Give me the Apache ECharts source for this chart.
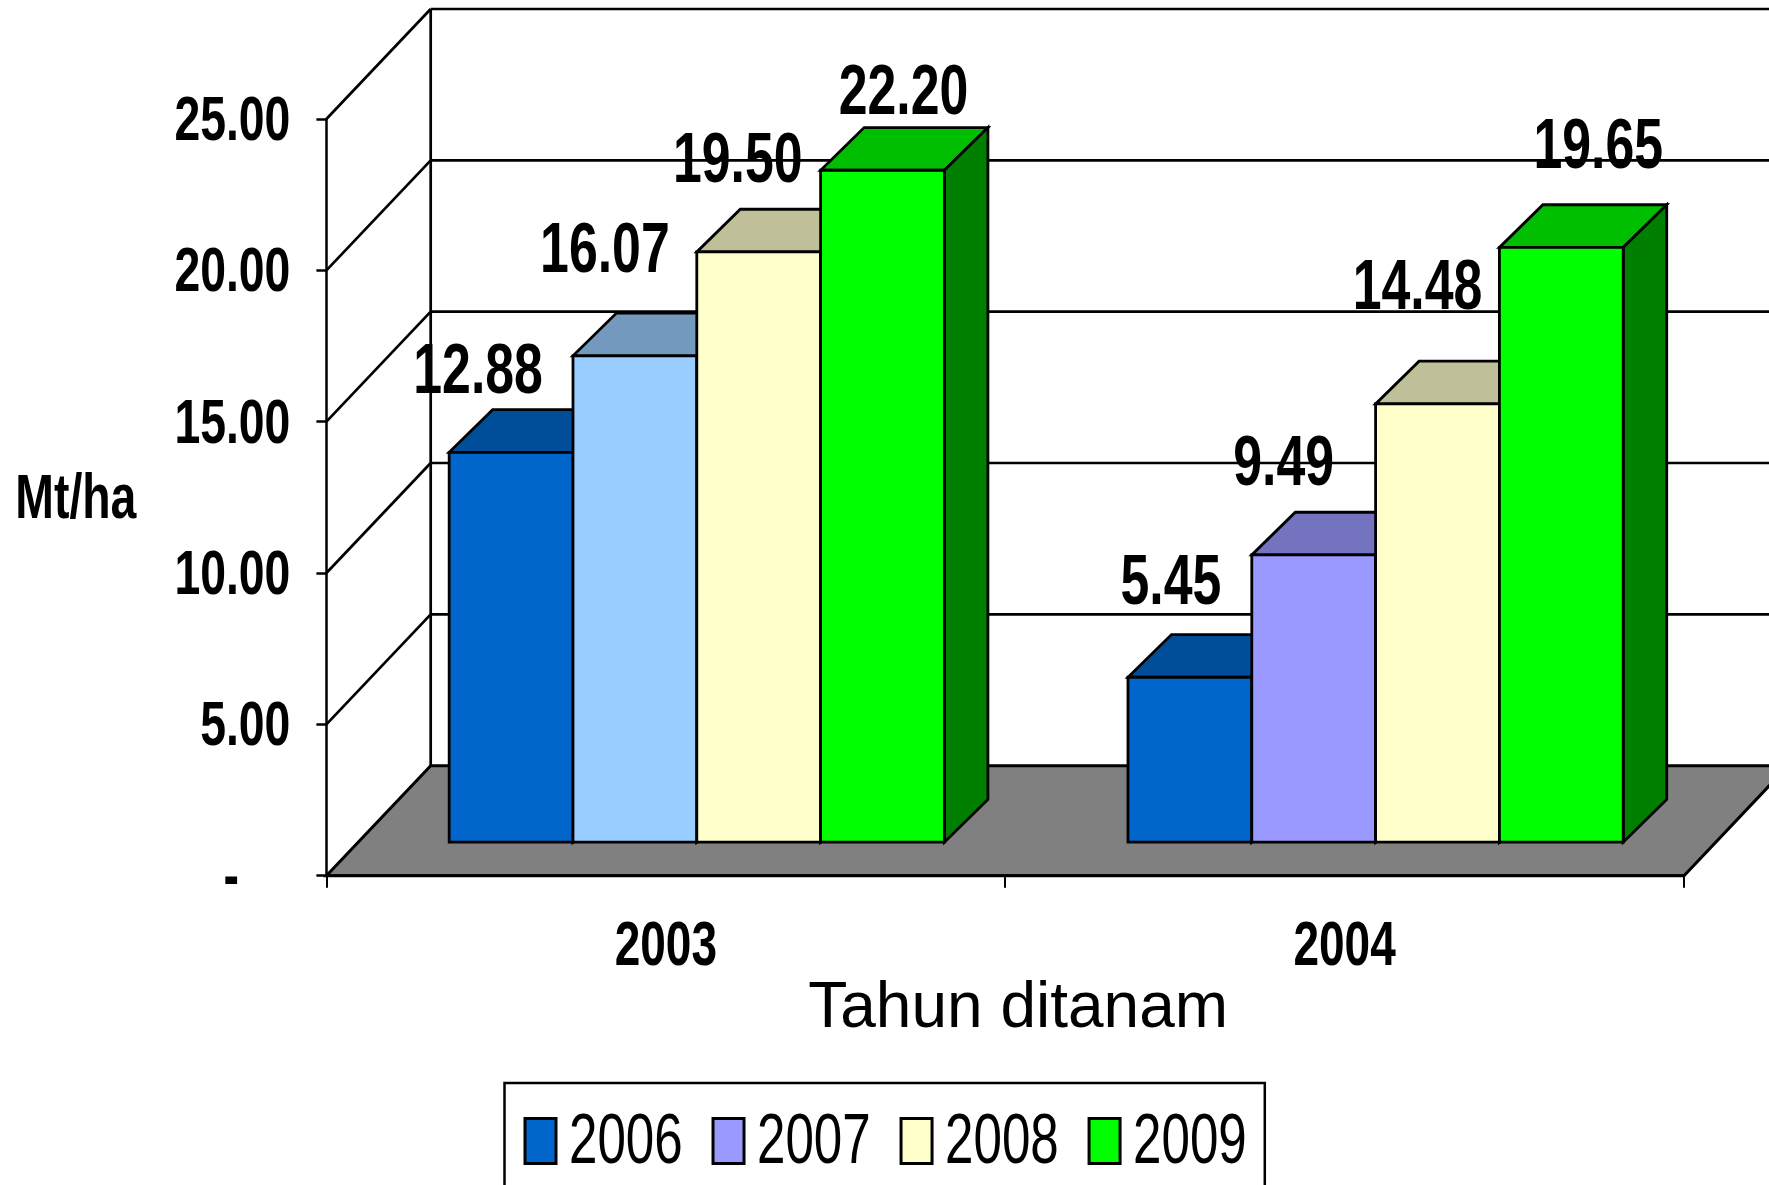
<!DOCTYPE html>
<html>
<head>
<meta charset="utf-8">
<style>html,body{margin:0;padding:0;background:#fff}#c{width:1769px;height:1185px}</style>
<script src="https://cdn.jsdelivr.net/npm/echarts@6/dist/echarts.min.js"></script>
</head>
<body>
<div id="c"></div>
<script>
const categories = ['2003', '2004'];
const seriesNames = ['2006', '2007', '2008', '2009'];
const values2006 = [12.88, 5.45];
const values2007 = [16.07, 9.49];
const values2008 = [19.50, 14.48];
const values2009 = [22.20, 19.65];
const gridTicks = [0, 5, 10, 15, 20, 25];

const frontColors = [['#0066CC', '#0066CC'], ['#99CCFF', '#9999FF'], ['#FFFFCC', '#FFFFCC'], ['#00FF00', '#00FF00']];
const topColors = [['#004D99', '#004D99'], ['#7399BF', '#7373BF'], ['#BFBF99', '#BFBF99'], ['#00BF00', '#00BF00']];
const sideColors = [['#004D66', '#004D66'], ['#4D6680', '#4D4D80'], ['#80805F', '#80805F'], ['#007F00', '#007F00']];
const legendColors = ['#0066CC', '#9999FF', '#FFFFCC', '#00FF00'];

// hand-placed data label offsets from the bar's front-top centre
const labelNudgeX = [[-33, -19], [-30, -30], [-21, -20], [21, 37]];
const labelNudgeY = [[-79, -93], [-103, -89], [-89, -114], [-76, -99]];

const allValues = [values2006, values2007, values2008, values2009];
const depthX = 104.3, depthY = -110;
const barDepthX = 43.5, barDepthY = -42.7;
const planeX = 31, planeY = -33.5;
const barRatio = 0.1824;
const squeeze = 0.73;
const sans = '"Liberation Sans",Arial,sans-serif';

function renderWall(params, api) {
  const v = api.value(1);
  const half = api.size([1, 0])[0] / 2;
  const a = api.coord([0, v]);
  const left = a[0] - half;
  const right = api.coord([categories.length - 1, v])[0] + half;
  const y = a[1];
  const line = { stroke: '#000', lineWidth: 2.7, fill: null };
  const children = [];
  if (v === 0) {
    children.push({ type: 'polygon', shape: { points: [[left, y], [right, y], [right + depthX, y + depthY], [left + depthX, y + depthY]] },
      style: { fill: '#808080', stroke: '#000', lineWidth: 3 } });
  } else {
    children.push({ type: 'line', shape: { x1: left, y1: y, x2: left + depthX, y2: y + depthY }, style: line });
    children.push({ type: 'line', shape: { x1: left + depthX, y1: y + depthY, x2: right + depthX, y2: y + depthY }, style: line });
  }
  if (v === gridTicks[gridTicks.length - 1]) {
    const base = api.coord([0, 0])[1];
    children.push({ type: 'line', shape: { x1: left + depthX, y1: y + depthY, x2: left + depthX, y2: base + depthY }, style: line });
  }
  return { type: 'group', children };
}

function makeBarRenderer(s) {
  return function (params, api) {
    const k = api.value(0), v = api.value(1);
    const bw = api.size([1, 0])[0] * barRatio;
    const base = api.coord([k, 0]);
    const top = api.coord([k, v]);
    const x0 = base[0] - 2 * bw + s * bw + planeX;
    const x1 = x0 + bw;
    const yb = base[1] + planeY;
    const yt = top[1] + planeY;
    const edge = { stroke: '#000', lineWidth: 2.8, lineJoin: 'miter' };
    return {
      type: 'group',
      children: [
        { type: 'polygon', shape: { points: [[x0, yt], [x1, yt], [x1 + barDepthX, yt + barDepthY], [x0 + barDepthX, yt + barDepthY]] },
          style: Object.assign({ fill: topColors[s][k] }, edge) },
        { type: 'polygon', shape: { points: [[x1, yt], [x1 + barDepthX, yt + barDepthY], [x1 + barDepthX, yb + barDepthY], [x1, yb]] },
          style: Object.assign({ fill: sideColors[s][k] }, edge) },
        { type: 'polygon', shape: { points: [[x0, yt], [x1, yt], [x1, yb], [x0, yb]] },
          style: Object.assign({ fill: frontColors[s][k] }, edge) },
        { type: 'text', x: (x0 + x1) / 2 + labelNudgeX[s][k], y: yt + labelNudgeY[s][k], scaleX: 0.74, z2: 50,
          style: { text: v.toFixed(2), fontFamily: sans, fontWeight: 'bold', fontSize: 70,
            fill: '#000', textAlign: 'center', textVerticalAlign: 'middle' } }
      ]
    };
  };
}

const chart = echarts.init(document.getElementById('c'), null, { renderer: 'canvas', width: 1769, height: 1185 });
chart.setOption({
  animation: false,
  backgroundColor: '#fff',
  grid: { left: 326.4, top: 119, width: 1357.6, height: 756.7, containLabel: false, outerBoundsMode: 'none' },
  legend: {
    data: seriesNames,
    left: 504.5, top: 1083,
    orient: 'horizontal',
    backgroundColor: '#fff',
    borderColor: '#000', borderWidth: 2.5,
    padding: [23, -16, 40, 19],
    itemWidth: 31, itemHeight: 45, itemGap: -5.2,
    icon: 'rect',
    itemStyle: { borderColor: '#000', borderWidth: 3 },
    textStyle: { fontFamily: sans, fontSize: 70, color: '#000' }
  },
  xAxis: {
    type: 'category', data: categories, z: 5,
    name: 'Tahun ditanam', nameLocation: 'middle', nameGap: 102, nameMoveOverlap: false,
    nameTextStyle: { fontFamily: sans, fontSize: 64, color: '#000', padding: [0, 0, 0, 26] },
    axisLine: { show: true, lineStyle: { color: '#000', width: 2.7 } },
    axisTick: { show: true, length: 12, lineStyle: { color: '#000', width: 2 } },
    axisLabel: { margin: 40, fontFamily: sans, fontWeight: 'bold', fontSize: 63, color: '#000' },
    splitLine: { show: false }
  },
  yAxis: {
    type: 'value', min: 0, max: 25, interval: 5, z: 5,
    name: 'Mt/ha', nameLocation: 'middle', nameRotate: 0, nameGap: 190, nameMoveOverlap: false,
    nameTextStyle: { fontFamily: sans, fontWeight: 'bold', fontSize: 63.5, color: '#000' },
    axisLine: { show: true, lineStyle: { color: '#000', width: 2.5 } },
    axisTick: { show: true, length: 10, lineStyle: { color: '#000', width: 2.5 } },
    axisLabel: {
      margin: 36, fontFamily: sans, fontWeight: 'bold', fontSize: 63.5, color: '#000',
      formatter: v => v === 0 ? '-    ' : v.toFixed(2)
    },
    splitLine: { show: false }
  },
  series: [
    {
      type: 'custom', name: 'walls', silent: true, z: 1,
      encode: { x: 0, y: 1 },
      data: gridTicks.map(v => [0, v]),
      renderItem: renderWall
    }
  ].concat(seriesNames.map((name, s) => ({
    type: 'custom', name, z: 2 + s,
    itemStyle: { color: legendColors[s] },
    encode: { x: 0, y: 1 },
    data: allValues[s].map((v, k) => [k, v]),
    renderItem: makeBarRenderer(s)
  })))
});

// The reference's lettering is horizontally condensed; no condensed face is installed,
// so the axis and legend text the library laid out is squeezed in place.
function condenseLibraryText() {
  const zr = chart.getZr();
  const seen = new Set();
  zr.storage.getDisplayList(true).forEach(span => {
    const el = span.type === 'text' ? span : span.parent;
    if (!el || el.type !== 'text' || seen.has(el)) return;
    seen.add(el);
    const text = el.style && el.style.text;
    if (!text || text === 'Tahun ditanam' || el.scaleX !== 1) return;
    el.originX = el.style.x || 0;
    el.originY = el.style.y || 0;
    el.scaleX = squeeze;
    if (seriesNames.includes(text)) { el.x += 8; el.y += 3; }
    else if (!categories.includes(text)) { el.y += 3.5; }
    el.markRedraw();
  });
  zr.refresh();
}
condenseLibraryText();
</script>
</body>
</html>
